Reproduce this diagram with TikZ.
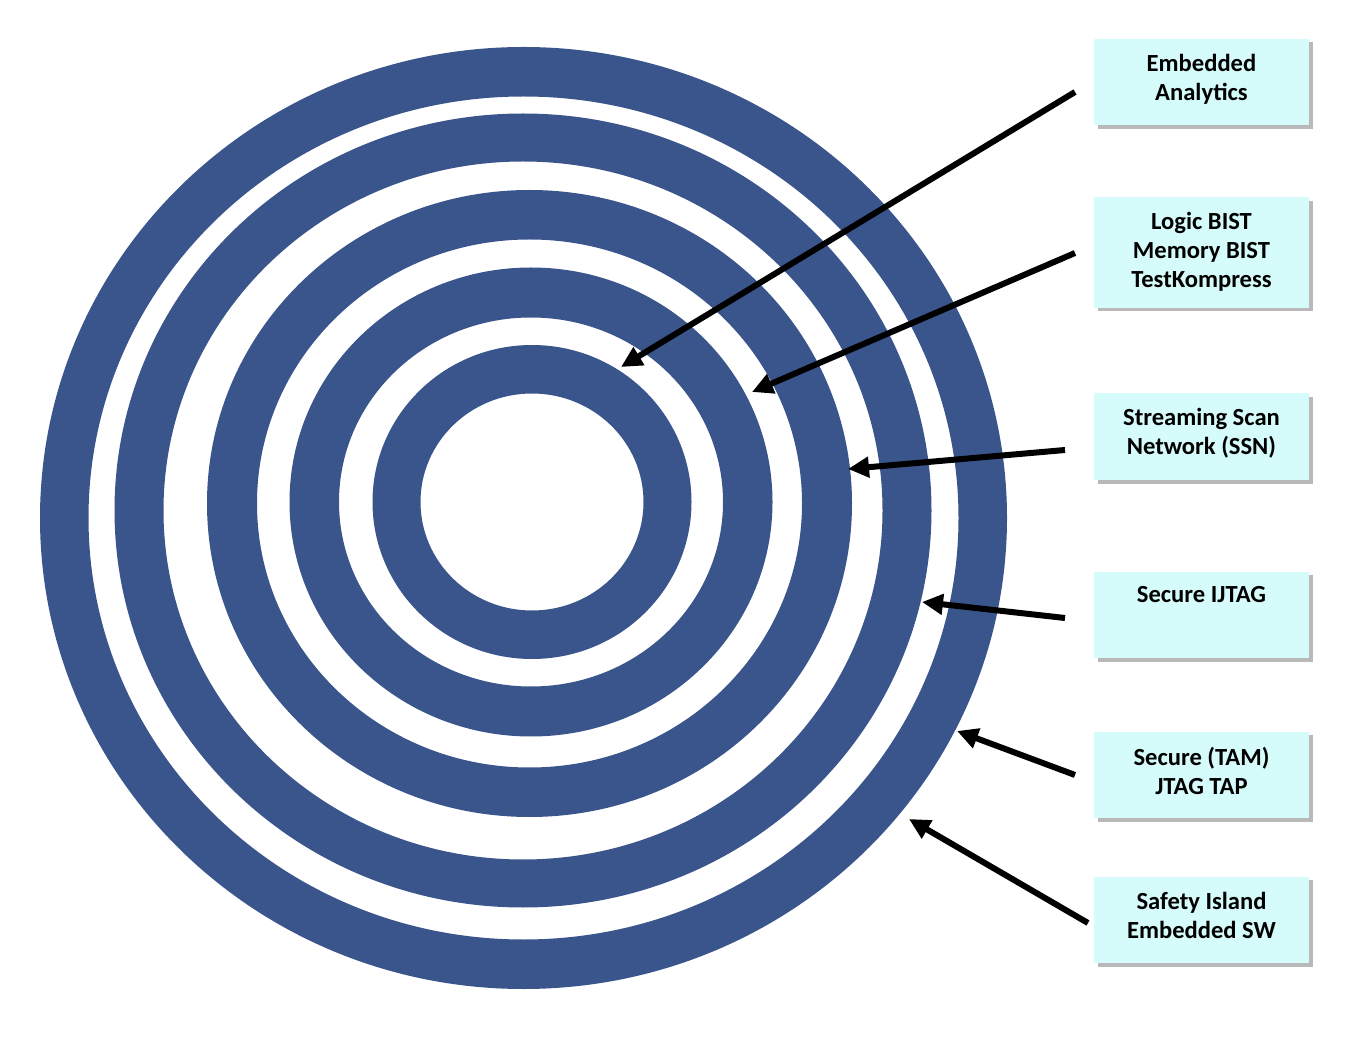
\documentclass[tikz,border=0pt]{standalone}
\usepackage{fontspec}
\setmainfont{Carlito}
\usetikzlibrary{positioning,arrows.meta,shadows}

\definecolor{ringblue}{RGB}{58,84,140}
\definecolor{boxcyan}{RGB}{214,251,251}

\tikzset{
  ring/.style={fill=ringblue, even odd rule},
  infobox/.style={fill=boxcyan, minimum width=4.3cm, minimum height=1.74cm, inner sep=0pt,
    drop shadow={shadow xshift=2pt, shadow yshift=-2pt, fill=black!55, opacity=.5}},
  boxtext/.style={font=\bfseries\fontsize{14}{16.5}\selectfont, align=center, inner sep=0pt},
  pointer/.style={line width=0.12cm, -{Triangle[length=0.42cm,width=0.4cm]}},
}

\begin{document}
\begin{tikzpicture}[x=0.02cm, y=-0.02cm]
    \useasboundingbox (0,0) rectangle (1356,1060);

    % rings, outermost first
    \foreach \cx/\cy/\ro/\so/\ri/\si in {523.5/518/483.5/471/435/421.5,
                                          523/510.5/408.5/397/359.5/349,
                                          529.5/503.5/322.5/313.5/272.5/264,
                                          531/502/241.5/234.5/192/184.5,
                                          532/502/159.5/157/111.5/108.5}
        \fill[ring] (\cx,\cy) ellipse [x radius=\ro*0.02cm, y radius=\so*0.02cm]
                    (\cx,\cy) ellipse [x radius=\ri*0.02cm, y radius=\si*0.02cm];

    % boxes
    \node[infobox] (ea) at (1201.5,82) {};
    \node[infobox, minimum height=2.22cm] (bist) at (1201.5,252.5) {};
    \node[infobox] (ssn) at (1201.5,436.5) {};
    \node[infobox] (ijtag) at (1201.5,615) {};
    \node[infobox] (tap) at (1201.5,775) {};
    \node[infobox] (safe) at (1201.5,920) {};

    \node[boxtext, below=8.7pt of ea.north] (ea-t) {Embedded\\Analytics};
    \node[boxtext, below=8.7pt of bist.north] (bist-t) {Logic BIST\\Memory BIST\\TestKompress};
    \node[boxtext, below=8.7pt of ssn.north] (ssn-t) {Streaming Scan\\Network (SSN)};
    \node[boxtext, below=8.7pt of ijtag.north] (ijtag-t) {Secure IJTAG};
    \node[boxtext, below=8.7pt of tap.north] (tap-t) {Secure (TAM)\\JTAG TAP};
    \node[boxtext, below=8.7pt of safe.north] (safe-t) {Safety Island\\Embedded SW};

    % arrows
    \coordinate (ea-s) at (1075,92);
    \coordinate (ea-e) at (621,367);
    \coordinate (bist-s) at (1075,253);
    \coordinate (bist-e) at (752,392);
    \coordinate (ssn-s) at (1065,450);
    \coordinate (ssn-e) at (848,469);
    \coordinate (ijtag-s) at (1065,618);
    \coordinate (ijtag-e) at (922,602);
    \coordinate (tap-s) at (1075,775);
    \coordinate (tap-e) at (957,731);
    \coordinate (safe-s) at (1088,923);
    \coordinate (safe-e) at (909,819);

    \draw[pointer] (ea-s) -- (ea-e);
    \draw[pointer] (bist-s) -- (bist-e);
    \draw[pointer] (ssn-s) -- (ssn-e);
    \draw[pointer] (ijtag-s) -- (ijtag-e);
    \draw[pointer] (tap-s) -- (tap-e);
    \draw[pointer] (safe-s) -- (safe-e);

\end{tikzpicture}
\end{document}
